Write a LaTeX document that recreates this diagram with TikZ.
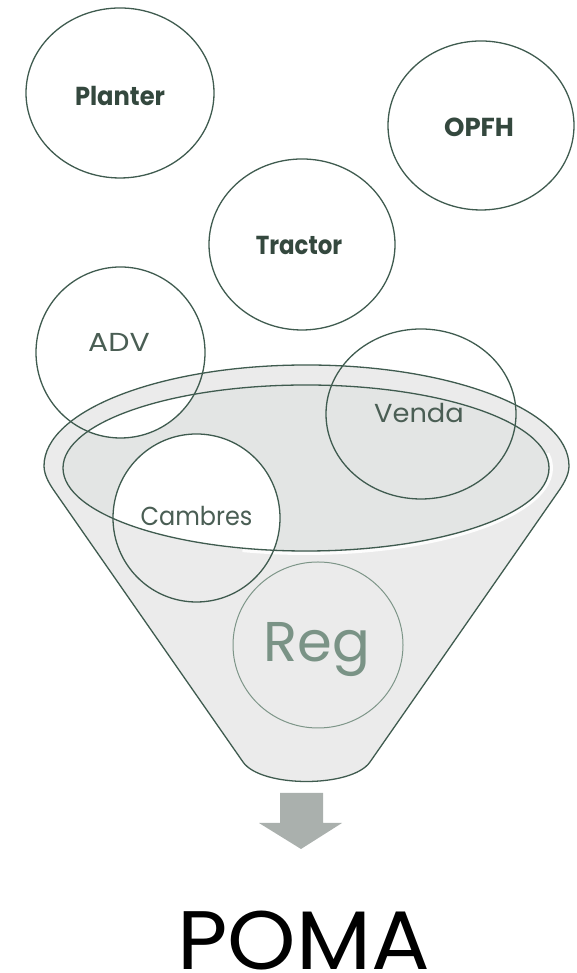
\documentclass[tikz,border=0pt]{standalone}
\usepackage{fontspec}
\setmainfont{Poppins}
\usetikzlibrary{shapes.geometric}
\definecolor{lineC}{HTML}{3F5B4F}
\definecolor{txtB}{HTML}{34483E}
\definecolor{txtR}{HTML}{4A5E54}
\definecolor{regC}{HTML}{7A9386}
\definecolor{regLine}{HTML}{7D9588}
\definecolor{bodyC}{HTML}{EBEBEB}
\definecolor{innerC}{HTML}{E3E5E4}
\definecolor{arrowC}{HTML}{AAB0AD}
\tikzset{
  bubble/.style={ellipse, draw=lineC, line width=1.3pt, inner sep=0pt},
  lbl/.style={inner sep=0pt, anchor=base, text=txtR, font=\fontsize{26}{26}\selectfont},
  blbl/.style={inner sep=0pt, anchor=base, text=txtB, font=\fontsize{26}{26}\selectfont\bfseries},
  funnelline/.style={draw=lineC, line width=1.3pt}
}
\begin{document}
\begin{tikzpicture}[x=1pt,y=1pt]
\useasboundingbox (0,0) rectangle (577,973);
% funnel body
\path[funnelline, fill=bodyC] (55,481) -- (243,211)
  .. controls (261,185) and (352,185) .. (370,211) -- (558,481)
  .. controls (562.2,487) and (569,497) .. (569,507)
  arc[start angle=0, end angle=180, x radius=262.5, y radius=101]
  .. controls (44,497) and (50.8,487) .. (55,481) -- cycle;
% mouth
\fill[innerC] (306,505) ellipse [x radius=243, y radius=83];
\draw[white, line width=3pt, opacity=0.9] (306,505) ++(-105:245.5 and 85.5)
  arc[start angle=-105, end angle=10, x radius=245.5, y radius=85.5];
\begin{scope}
  \clip (306,505) ellipse [x radius=243, y radius=83];
  \fill[white] (120.5,620.5) circle [radius=85];
  \fill[white] (196.5,455) ellipse [x radius=83.5, y radius=84];
\end{scope}
\draw[funnelline] (306,505) ellipse [x radius=243, y radius=83];
% bubbles
\node[bubble, minimum width=188pt, minimum height=170pt] (planter) at (120,880) {};
\node[bubble, minimum width=186pt, minimum height=169pt] (opfh) at (481,847.5) {};
\node[bubble, minimum width=186pt, minimum height=171pt] (tractor) at (302,728.5) {};
\node[bubble, minimum width=169pt, minimum height=171pt] (adv) at (120.5,620.5) {};
\node[bubble, minimum width=190pt, minimum height=170pt] (venda) at (421,559) {};
\node[bubble, minimum width=167pt, minimum height=168pt] (cambres) at (196.5,455) {};
\node[bubble, draw=regLine, line width=1pt, minimum width=170pt, minimum height=166pt] (reg) at (318,328) {};
% labels
\node[blbl, xscale=0.93] (planterT) at (120,867) {Planter};
\node[blbl] (opfhT) at (479,836) {OPFH};
\node[blbl, xscale=0.88] (tractorT) at (299,718) {Tractor};
\node[lbl, xscale=1.15] (advT) at (119,621) {ADV};
\node[lbl, xscale=1.05] (vendaT) at (419,550) {Venda};
\node[lbl, xscale=0.92] (cambresT) at (196.5,447) {Cambres};
\node[lbl, text=regC, font=\fontsize{56}{56}\selectfont] (regT) at (317,311) {Reg};
% arrow
\fill[arrowC] (280,180) -- (323,180) -- (323,150) -- (342,150) -- (301,124)
  -- (259,150) -- (280,150) -- cycle;
\node[inner sep=0pt, anchor=base, text=black, xscale=1.05, font=\fontsize{83}{83}\selectfont] (poma) at (303.5,4) {POMA};
\end{tikzpicture}
\end{document}
